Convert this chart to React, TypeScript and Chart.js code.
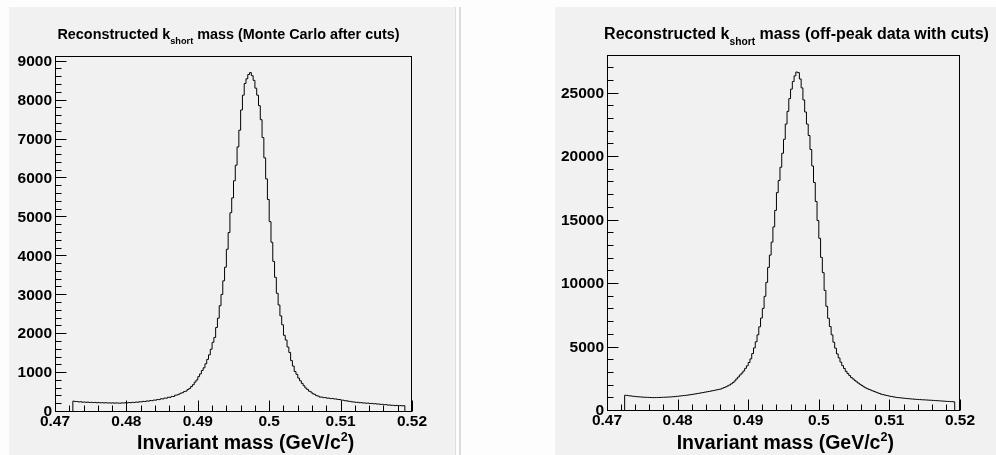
import React, { useEffect, useRef } from "react";
import { Chart, registerables } from "chart.js";

Chart.register(...registerables);

// Histogram binning (GeV/c^2): 200 bins over [0.47, 0.52]
const MASS_MIN = 0.47;
const MASS_MAX = 0.52;
const BIN_WIDTH = 0.00025;

const X_TICKS = [0.47, 0.48, 0.49, 0.5, 0.51, 0.52];
const X_TICK_LABELS = ["0.47", "0.48", "0.49", "0.5", "0.51", "0.52"];

const MC_Y_TICKS = [0, 1000, 2000, 3000, 4000, 5000, 6000, 7000, 8000, 9000];
const DATA_Y_TICKS = [0, 5000, 10000, 15000, 20000, 25000];

// Monte Carlo after cuts: entries per bin
const MC_COUNTS = [
  0, 0, 0, 0, 0, 0, 0, 0, 0, 0,
  0, 279, 268, 270, 258, 263, 252, 257, 249, 254,
  245, 249, 241, 246, 238, 243, 236, 240, 233, 239,
  231, 236, 229, 235, 227, 234, 229, 226, 235, 230,
  238, 234, 243, 238, 249, 244, 256, 251, 263, 259,
  273, 268, 284, 279, 296, 291, 307, 305, 322, 318,
  340, 336, 358, 355, 379, 374, 401, 398, 432, 438,
  456, 483, 495, 525, 536, 578, 606, 655, 702, 768,
  822, 908, 978, 1066, 1135, 1238, 1352, 1468, 1612, 1790,
  1915, 2170, 2410, 2730, 3020, 3370, 3720, 4180, 4610, 5120,
  5500, 5940, 6340, 6810, 7240, 7760, 8140, 8440, 8560, 8670,
  8720, 8640, 8520, 8320, 8140, 7870, 7510, 7050, 6530, 5990,
  5460, 4890, 4360, 3870, 3460, 3050, 2750, 2470, 2240, 1970,
  1850, 1670, 1530, 1320, 1180, 1040, 968, 872, 802, 735,
  676, 618, 580, 534, 514, 470, 455, 420, 410, 383,
  384, 369, 370, 356, 358, 344, 347, 335, 336, 322,
  321, 306, 303, 289, 288, 275, 272, 260, 258, 248,
  250, 240, 241, 231, 233, 225, 229, 218, 221, 211,
  214, 204, 206, 195, 197, 187, 190, 178, 181, 171,
  173, 164, 169, 161, 166, 157, 162, 0, 0, 0,
];

// Off-peak data with cuts: entries per bin
const DATA_COUNTS = [
  0, 0, 0, 0, 0, 0, 0, 0, 0, 0,
  0, 1240, 1224, 1198, 1188, 1165, 1152, 1130, 1124, 1110,
  1103, 1088, 1085, 1074, 1072, 1061, 1059, 1051, 1060, 1058,
  1068, 1066, 1079, 1081, 1093, 1095, 1106, 1110, 1126, 1135,
  1154, 1165, 1185, 1196, 1216, 1227, 1249, 1266, 1291, 1308,
  1333, 1354, 1383, 1402, 1433, 1452, 1484, 1504, 1535, 1555,
  1588, 1611, 1647, 1672, 1708, 1728, 1792, 1848, 1903, 1978,
  2050, 2140, 2240, 2370, 2530, 2680, 2840, 2980, 3150, 3360,
  3560, 3820, 4110, 4520, 4970, 5450, 6000, 6630, 7320, 8080,
  9030, 10130, 11310, 12280, 13300, 14500, 15800, 17200, 18150, 19200,
  20300, 21400, 22600, 23600, 24600, 25350, 25950, 26400, 26700, 26650,
  26150, 25450, 24500, 23550, 22600, 21700, 20600, 19300, 18000, 16500,
  15000, 13600, 12100, 10900, 9500, 8250, 7300, 6650, 6000, 5420,
  4950, 4500, 4180, 3850, 3570, 3350, 3120, 2950, 2790, 2630,
  2530, 2410, 2300, 2195, 2100, 2010, 1910, 1830, 1760, 1700,
  1650, 1590, 1540, 1480, 1430, 1380, 1320, 1290, 1255, 1225,
  1192, 1158, 1137, 1108, 1087, 1060, 1052, 1033, 1022, 1003,
  990, 973, 964, 948, 940, 923, 918, 904, 899, 886,
  882, 870, 866, 854, 850, 837, 830, 816, 810, 797,
  792, 778, 772, 758, 752, 740, 736, 722, 0, 0,
];

const FONT_FAMILY = '"Liberation Sans", Arial, Helvetica, sans-serif';

type PanelProps = {
  left: number;
  width: number;
  height: number;
  counts: number[];
  yMax: number;
  yTicks: number[];
  yMinor: number;
  titleLead: string;
  titleTail: string;
  titleCenter: number;
  titleSize: number;
  xTitleLeft: number;
  area: { left: number; top: number; right: number; bottom: number };
};

// Frame, inside tick marks and the titles with sub/superscripts
const histFrame = {
  id: "histFrame",
  afterDraw(chart: any, _args: any, opts: any) {
    const { ctx, chartArea: a, scales } = chart;
    const xs = scales.x;
    const ys = scales.y;
    ctx.save();
    ctx.strokeStyle = "#000";
    ctx.lineWidth = 1;
    ctx.strokeRect(a.left + 0.5, a.top + 0.5, a.right - a.left - 1, a.bottom - a.top - 1);

    ctx.beginPath();
    const xMinor = 0.002;
    const nx = Math.round((MASS_MAX - MASS_MIN) / xMinor);
    for (let k = 0; k <= nx; k++) {
      const v = MASS_MIN + k * xMinor;
      const px = Math.round(xs.getPixelForValue(v)) + 0.5;
      const len = k % 5 === 0 ? 11 : 6;
      ctx.moveTo(px, a.bottom - 0.5);
      ctx.lineTo(px, a.bottom - 0.5 - len);
    }
    const ny = Math.floor(ys.max / opts.yMinor);
    const perMajor = Math.round(opts.yMajor / opts.yMinor);
    for (let k = 0; k <= ny; k++) {
      const v = k * opts.yMinor;
      const py = Math.round(ys.getPixelForValue(v)) - 0.5;
      const len = k % perMajor === 0 ? 11 : 6;
      ctx.moveTo(a.left + 0.5, py);
      ctx.lineTo(a.left + 0.5 + len, py);
    }
    ctx.stroke();

    // Title: "Reconstructed k_short mass (...)"
    ctx.fillStyle = "#000";
    ctx.textBaseline = "alphabetic";
    ctx.textAlign = "left";
    const s = opts.titleSize;
    const big = `bold ${s}px ${FONT_FAMILY}`;
    const small = `bold ${s * 0.64}px ${FONT_FAMILY}`;
    ctx.font = big;
    const w1 = ctx.measureText(opts.titleLead).width;
    const w3 = ctx.measureText(opts.titleTail).width;
    ctx.font = small;
    const w2 = ctx.measureText("short").width;
    let tx = opts.titleCenter - (w1 + w2 + w3) / 2;
    const ty = 39;
    ctx.font = big;
    ctx.fillText(opts.titleLead, tx, ty);
    tx += w1;
    ctx.font = small;
    ctx.fillText("short", tx, ty + s * 0.37);
    tx += w2;
    ctx.font = big;
    ctx.fillText(opts.titleTail, tx, ty);

    // Axis title: "Invariant mass (GeV/c^2)"
    const axFont = `bold 19.5px ${FONT_FAMILY}`;
    const supFont = `bold 12.5px ${FONT_FAMILY}`;
    let ax = opts.xTitleLeft;
    const ay = 449;
    ctx.font = axFont;
    ctx.fillText("Invariant mass (GeV/c", ax, ay);
    ax += ctx.measureText("Invariant mass (GeV/c").width;
    ctx.font = supFont;
    ctx.fillText("2", ax, ay - 8);
    ax += ctx.measureText("2").width;
    ctx.font = axFont;
    ctx.fillText(")", ax, ay);
    ctx.restore();
  },
};

function HistPanel(p: PanelProps) {
  const ref = useRef<HTMLCanvasElement | null>(null);

  useEffect(() => {
    if (!ref.current) return;
    const points = p.counts.map((c, i) => ({ x: MASS_MIN + i * BIN_WIDTH, y: c }));
    points.push({ x: MASS_MAX, y: p.counts[p.counts.length - 1] });
    const tickFont = { family: FONT_FAMILY, size: 15.5, weight: "bold" as const };
    const yWidth = p.area.left;
    const xHeight = p.height - p.area.bottom;

    const chart = new Chart(ref.current, {
      type: "line",
      data: {
        datasets: [
          {
            data: points,
            stepped: "after",
            borderColor: "#000",
            borderWidth: 1,
            pointRadius: 0,
            fill: false,
            clip: 0,
          },
        ],
      },
      options: {
        animation: false,
        responsive: false,
        maintainAspectRatio: false,
        events: [],
        layout: {
          padding: { top: p.area.top, right: p.width - p.area.right, bottom: 0, left: 0 },
        },
        plugins: {
          legend: { display: false },
          tooltip: { enabled: false },
          title: { display: false },
          histFrame: {
            yMinor: p.yMinor,
            yMajor: p.yTicks[1] - p.yTicks[0],
            titleLead: p.titleLead,
            titleTail: p.titleTail,
            titleCenter: p.titleCenter,
            titleSize: p.titleSize,
            xTitleLeft: p.xTitleLeft,
          },
        } as any,
        scales: {
          x: {
            type: "linear",
            min: MASS_MIN,
            max: MASS_MAX,
            grid: { display: false, drawTicks: false },
            border: { display: false },
            ticks: {
              autoSkip: false,
              maxRotation: 0,
              padding: 0,
              color: "#000",
              font: tickFont,
              callback: (_v: any, i: number) => X_TICK_LABELS[i],
            },
            afterBuildTicks: (s: any) => {
              s.ticks = X_TICKS.map((v) => ({ value: v }));
            },
            afterFit: (s: any) => {
              s.height = xHeight;
            },
          },
          y: {
            type: "linear",
            min: 0,
            max: p.yMax,
            grid: { display: false, drawTicks: false },
            border: { display: false },
            ticks: {
              autoSkip: false,
              padding: 3,
              color: "#000",
              font: tickFont,
              callback: (v: any) => String(v),
            },
            afterBuildTicks: (s: any) => {
              s.ticks = p.yTicks.map((v) => ({ value: v }));
            },
            afterFit: (s: any) => {
              s.width = yWidth;
            },
          },
        },
      },
      plugins: [histFrame],
    });
    return () => chart.destroy();
  }, []);

  return (
    <canvas
      ref={ref}
      width={p.width}
      height={p.height}
      style={{ position: "absolute", left: p.left, top: 0, width: p.width, height: p.height }}
    />
  );
}

export default function App() {
  return (
    <div
      style={{
        position: "absolute",
        left: 0,
        top: 0,
        width: 996,
        height: 455,
        overflow: "hidden",
        background: "#fdfdfd",
      }}
    >
      <div style={{ position: "absolute", left: 9, top: 7, width: 446, height: 448, background: "#f1f1f1", borderRight: "1px solid #dedede" }} />
      <div style={{ position: "absolute", left: 459, top: 7, width: 2, height: 448, background: "#dcdcdc" }} />
      <div style={{ position: "absolute", left: 555, top: 7, width: 441, height: 448, background: "#f1f1f1" }} />
      <HistPanel
        left={0}
        width={460}
        height={455}
        counts={MC_COUNTS}
        yMax={9146}
        yTicks={MC_Y_TICKS}
        yMinor={200}
        titleLead="Reconstructed k"
        titleTail=" mass (Monte Carlo after cuts)"
        titleCenter={228.5}
        titleSize={14.4}
        xTitleLeft={137}
        area={{ left: 55, top: 56, right: 412, bottom: 412 }}
      />
      <HistPanel
        left={500}
        width={496}
        height={455}
        counts={DATA_COUNTS}
        yMax={28040}
        yTicks={DATA_Y_TICKS}
        yMinor={1000}
        titleLead="Reconstructed k"
        titleTail=" mass (off-peak data with cuts)"
        titleCenter={296.5}
        titleSize={16}
        xTitleLeft={176.7}
        area={{ left: 107, top: 55, right: 460, bottom: 411 }}
      />
    </div>
  );
}
